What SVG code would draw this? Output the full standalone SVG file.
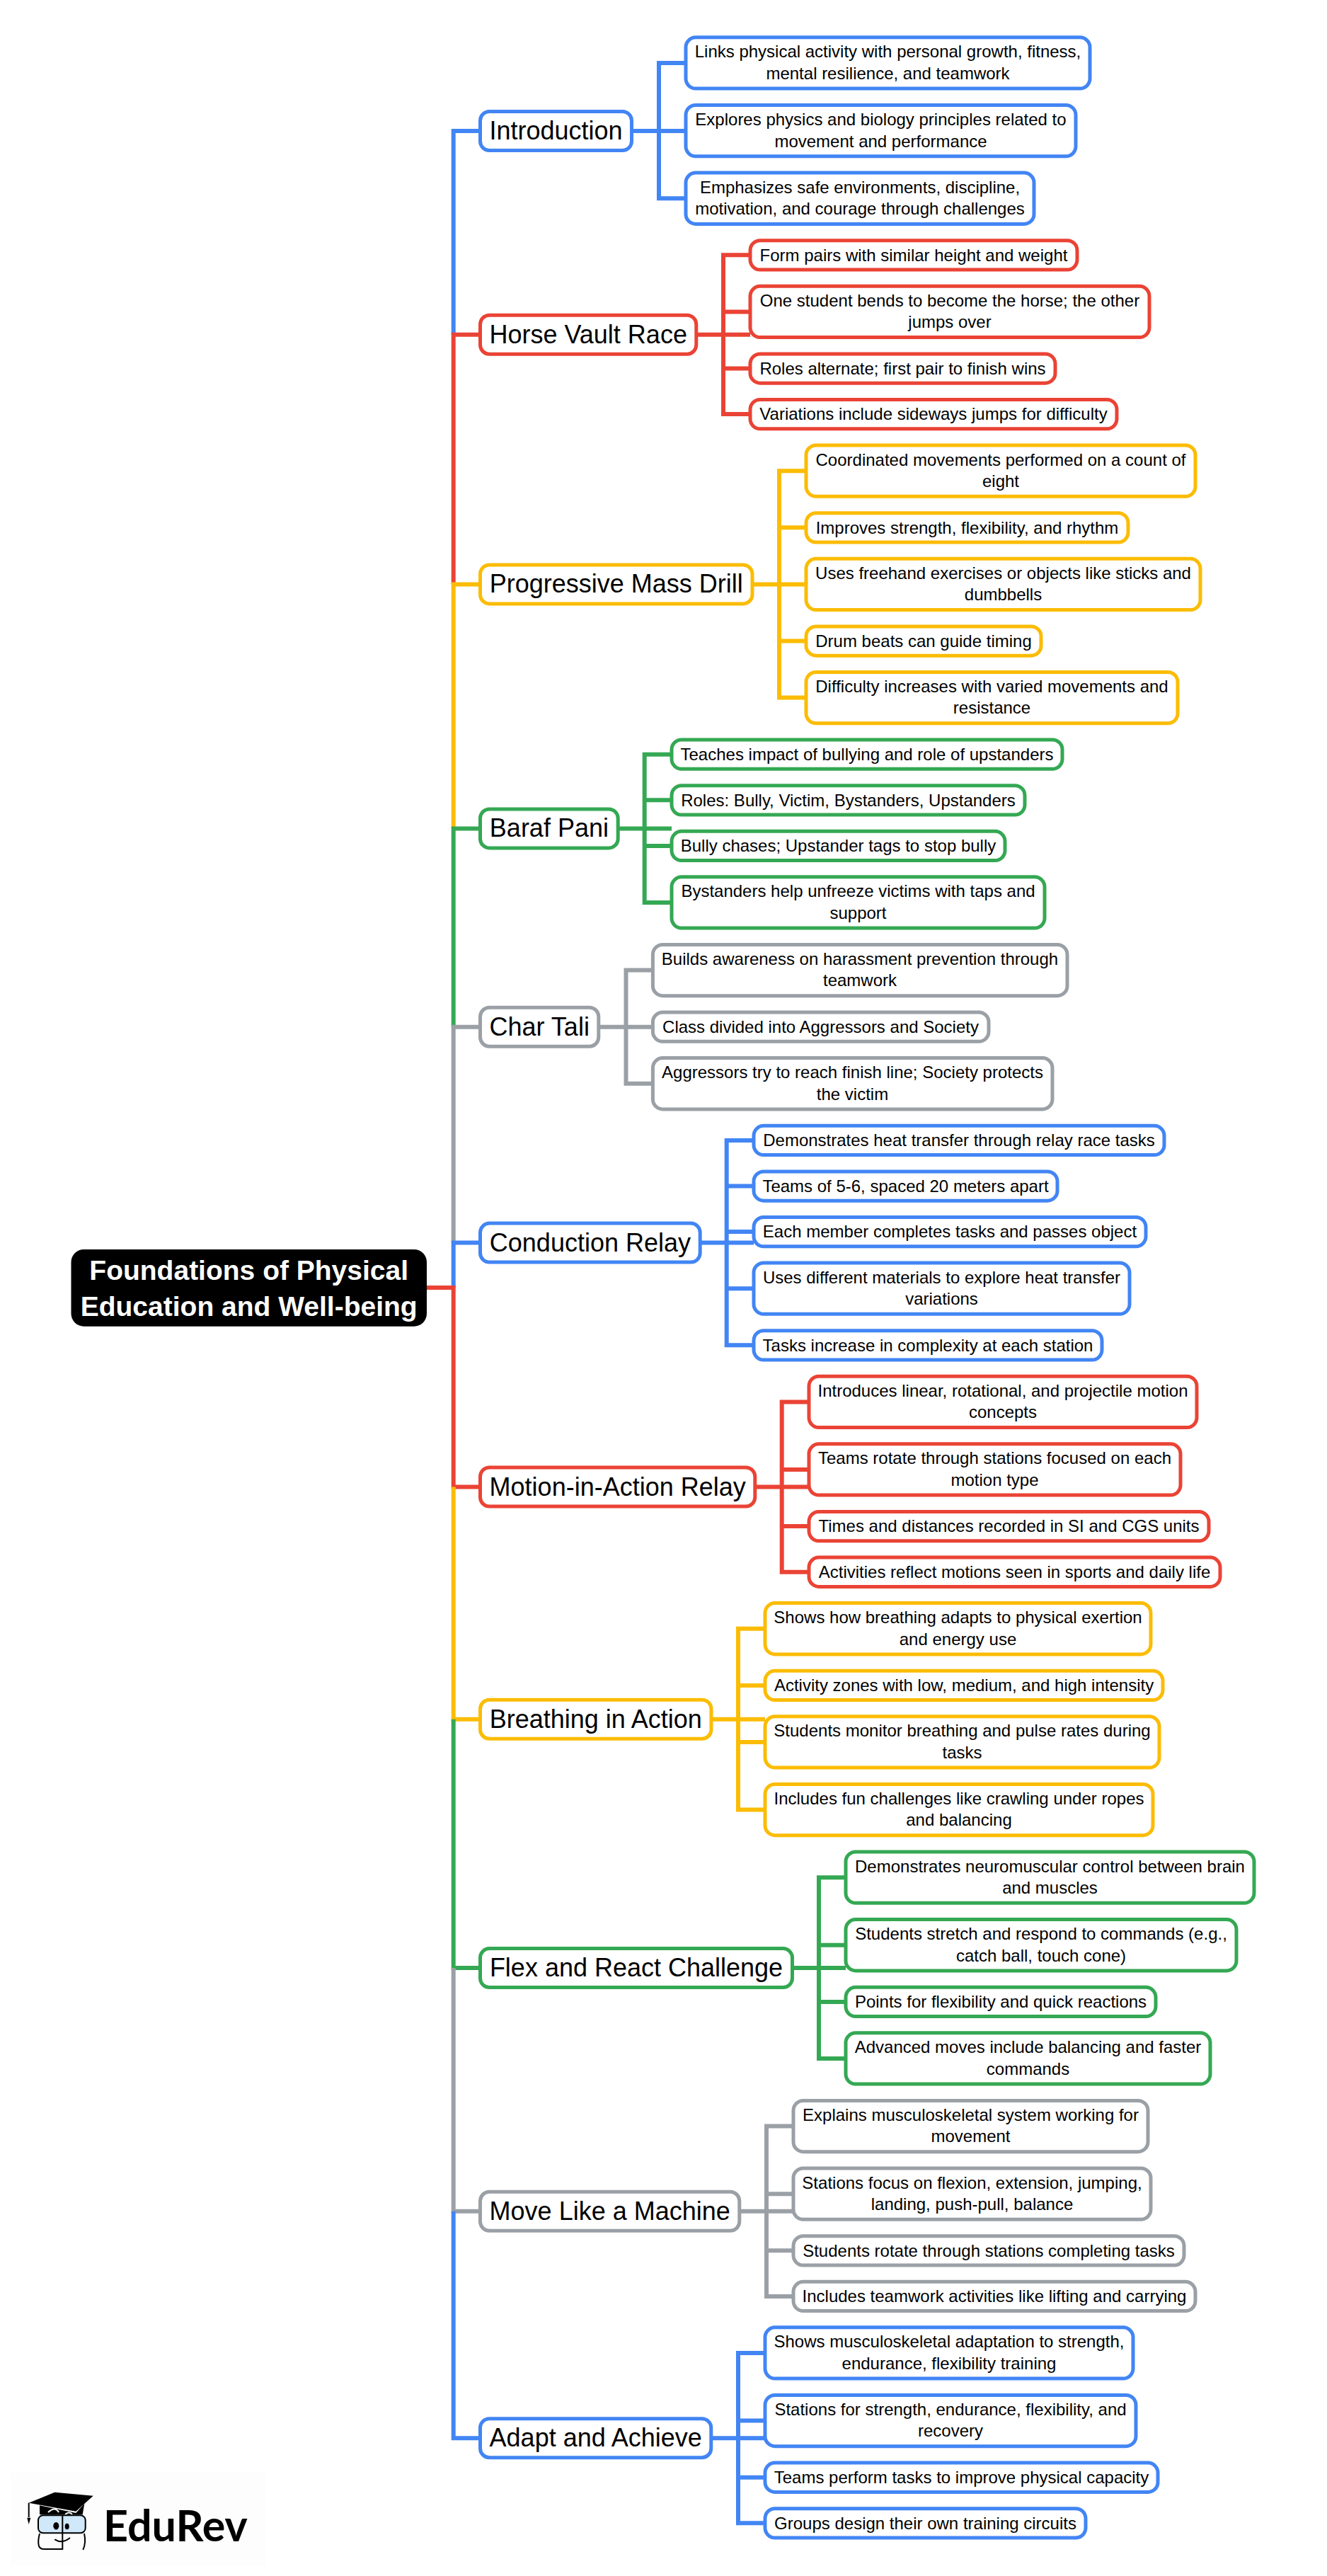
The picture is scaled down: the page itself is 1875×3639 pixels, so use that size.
<svg xmlns="http://www.w3.org/2000/svg" width="1875" height="3639" viewBox="0 0 1875 3639">
<style>
text{font-family:"Liberation Sans",Arial,sans-serif;fill:#000;text-anchor:middle}
.leaf text{font-size:24px}
.main text{font-size:36px}
.root text{font-size:39px;font-weight:700;fill:#fff}
rect{fill:#fff;stroke-width:5}
.b rect{stroke:#4285F4}.r rect{stroke:#EA4335}.y rect{stroke:#FBBC04}.g rect{stroke:#34A853}.k rect{stroke:#9AA0A6}
#connectors path{fill:none;stroke-width:6;stroke-linejoin:miter}
path.b{stroke:#4285F4}path.r{stroke:#EA4335}path.y{stroke:#FBBC04}path.g{stroke:#34A853}path.k{stroke:#9AA0A6}
</style>
<rect width="1875" height="3639" style="fill:#fff;stroke:none"/>
<g id="connectors">
<path class="b" d="M640.7 473V185H679"/>
<path class="r" d="M640.7 825.4V472.7H679"/>
<path class="y" d="M640.7 1170.4V825.4H679"/>
<path class="g" d="M640.7 1450.7V1170.4H679"/>
<path class="k" d="M640.7 1755.6V1450.7H679"/>
<path class="b" d="M640.7 1819V1755.6H679"/>
<path class="r" d="M603 1819H640.7V2100.5H679"/>
<path class="y" d="M640.7 2100.5V2428.7H679"/>
<path class="g" d="M640.7 2428.7V2780.1H679"/>
<path class="k" d="M640.7 2780.1V3123.8H679"/>
<path class="b" d="M640.7 3123.8V3444.2H679"/>
<path class="b" d="M892 185H968M968 89H931V280.2H968"/>
<path class="r" d="M983 472.7H1060M1060 360.3H1022V585.1H1060M1022 440.4H1060M1022 520.5H1060"/>
<path class="y" d="M1063 825.4H1139M1139 665.2H1101V985.6H1139M1101 745.3H1139M1101 825.4H1139M1101 905.5H1139"/>
<path class="g" d="M873 1170.4H949M949 1065.7H910.7V1275H949M910.7 1130.3H949M910.7 1194.9H949"/>
<path class="k" d="M846 1450.7H922M922 1370.6H884.5V1530.8H922"/>
<path class="b" d="M989 1755.6H1065M1065 1610.9H1026.7V1900.3H1065M1026.7 1675.5H1065M1026.7 1740.1H1065M1026.7 1820.2H1065"/>
<path class="r" d="M1067 2100.5H1143M1143 1980.4H1104.7V2220.7H1143M1104.7 2076H1143M1104.7 2156.1H1143"/>
<path class="y" d="M1005 2428.7H1081M1081 2300.8H1043V2556.6H1081M1043 2380.9H1081M1043 2461H1081"/>
<path class="g" d="M1119 2780.1H1195M1195 2652.2H1157V2908H1195M1157 2747.8H1195M1157 2827.9H1195"/>
<path class="k" d="M1045 3123.8H1121M1121 3003.6H1083V3243.9H1121M1083 3099.2H1121M1083 3179.3H1121"/>
<path class="b" d="M1005 3444.2H1081M1081 3324H1043V3564.3H1081M1043 3419.6H1081M1043 3499.7H1081"/>
</g>
<g id="root" class="root"><rect x="100.5" y="1765" width="502.5" height="108.7" rx="18" style="fill:#000;stroke:none"/><text x="351.7" y="1808">Foundations of Physical</text><text x="351.7" y="1859">Education and Well-being</text></g>

<g id="n1" class="main b"><rect x="678.5" y="157.5" width="214" height="55" rx="13"/><text x="785.5" y="197">Introduction</text></g>
<g id="n1a" class="leaf b"><rect x="969" y="52.8" width="571" height="72.3" rx="14"/><text x="1254.5" y="81">Links physical activity with personal growth, fitness,</text><text x="1254.5" y="111.5">mental resilience, and teamwork</text></g>
<g id="n1b" class="leaf b"><rect x="969" y="148.5" width="551" height="72.3" rx="14"/><text x="1244.5" y="177">Explores physics and biology principles related to</text><text x="1244.5" y="207.5">movement and performance</text></g>
<g id="n1c" class="leaf b"><rect x="969" y="244.1" width="492" height="72.3" rx="14"/><text x="1215" y="272.8">Emphasizes safe environments, discipline,</text><text x="1215" y="303.2">motivation, and courage through challenges</text></g>

<g id="n2" class="main r"><rect x="678.5" y="445.2" width="305.3" height="55" rx="13"/><text x="831.2" y="484.7">Horse Vault Race</text></g>
<g id="n2a" class="leaf r"><rect x="1060" y="339.7" width="462" height="41.3" rx="14"/><text x="1291" y="368.6">Form pairs with similar height and weight</text></g>
<g id="n2b" class="leaf r"><rect x="1060" y="404.3" width="564" height="72.3" rx="14"/><text x="1342" y="432.7">One student bends to become the horse; the other</text><text x="1342" y="463.1">jumps over</text></g>
<g id="n2c" class="leaf r"><rect x="1060" y="499.9" width="431" height="41.3" rx="14"/><text x="1275.5" y="528.8">Roles alternate; first pair to finish wins</text></g>
<g id="n2d" class="leaf r"><rect x="1060" y="564.5" width="518" height="41.3" rx="14"/><text x="1319" y="593.4">Variations include sideways jumps for difficulty</text></g>

<g id="n3" class="main y"><rect x="678.5" y="797.9" width="384.5" height="55" rx="13"/><text x="870.8" y="837.4">Progressive Mass Drill</text></g>
<g id="n3a" class="leaf y"><rect x="1139" y="629" width="550" height="72.3" rx="14"/><text x="1414" y="657.5">Coordinated movements performed on a count of</text><text x="1414" y="687.9">eight</text></g>
<g id="n3b" class="leaf y"><rect x="1139" y="724.7" width="455" height="41.3" rx="14"/><text x="1366.5" y="753.6">Improves strength, flexibility, and rhythm</text></g>
<g id="n3c" class="leaf y"><rect x="1139" y="789.3" width="557" height="72.3" rx="14"/><text x="1417.5" y="817.7">Uses freehand exercises or objects like sticks and</text><text x="1417.5" y="848.1">dumbbells</text></g>
<g id="n3d" class="leaf y"><rect x="1139" y="884.9" width="332" height="41.3" rx="14"/><text x="1305" y="913.8">Drum beats can guide timing</text></g>
<g id="n3e" class="leaf y"><rect x="1139" y="949.5" width="525" height="72.3" rx="14"/><text x="1401.5" y="977.9">Difficulty increases with varied movements and</text><text x="1401.5" y="1008.3">resistance</text></g>

<g id="n4" class="main g"><rect x="678.5" y="1142.9" width="194.7" height="55" rx="13"/><text x="775.9" y="1182.4">Baraf Pani</text></g>
<g id="n4a" class="leaf g"><rect x="949" y="1045" width="552" height="41.3" rx="14"/><text x="1225" y="1074">Teaches impact of bullying and role of upstanders</text></g>
<g id="n4b" class="leaf g"><rect x="949" y="1109.7" width="499" height="41.3" rx="14"/><text x="1198.5" y="1138.6">Roles: Bully, Victim, Bystanders, Upstanders</text></g>
<g id="n4c" class="leaf g"><rect x="949" y="1174.3" width="471" height="41.3" rx="14"/><text x="1184.5" y="1203.2">Bully chases; Upstander tags to stop bully</text></g>
<g id="n4d" class="leaf g"><rect x="949" y="1238.8" width="527" height="72.3" rx="14"/><text x="1212.5" y="1267.3">Bystanders help unfreeze victims with taps and</text><text x="1212.5" y="1297.7">support</text></g>

<g id="n5" class="main k"><rect x="678.5" y="1423.2" width="167.3" height="55" rx="13"/><text x="762.2" y="1462.7">Char Tali</text></g>
<g id="n5a" class="leaf k"><rect x="922.4" y="1334.4" width="585.6" height="72.3" rx="14"/><text x="1215" y="1362.9">Builds awareness on harassment prevention through</text><text x="1215" y="1393.3">teamwork</text></g>
<g id="n5b" class="leaf k"><rect x="922.4" y="1430" width="474.6" height="41.3" rx="14"/><text x="1159.5" y="1459">Class divided into Aggressors and Society</text></g>
<g id="n5c" class="leaf k"><rect x="922.4" y="1494.6" width="564.6" height="72.3" rx="14"/><text x="1204.5" y="1523.1">Aggressors try to reach finish line; Society protects</text><text x="1204.5" y="1553.5">the victim</text></g>

<g id="n6" class="main b"><rect x="678.5" y="1728.1" width="310.7" height="55" rx="13"/><text x="833.9" y="1767.6">Conduction Relay</text></g>
<g id="n6a" class="leaf b"><rect x="1065" y="1590.3" width="580" height="41.3" rx="14"/><text x="1355" y="1619.2">Demonstrates heat transfer through relay race tasks</text></g>
<g id="n6b" class="leaf b"><rect x="1065" y="1654.9" width="429" height="41.3" rx="14"/><text x="1279.5" y="1683.8">Teams of 5-6, spaced 20 meters apart</text></g>
<g id="n6c" class="leaf b"><rect x="1065" y="1719.5" width="554" height="41.3" rx="14"/><text x="1342" y="1748.4">Each member completes tasks and passes object</text></g>
<g id="n6d" class="leaf b"><rect x="1065" y="1784" width="531" height="72.3" rx="14"/><text x="1330.5" y="1812.5">Uses different materials to explore heat transfer</text><text x="1330.5" y="1842.9">variations</text></g>
<g id="n6e" class="leaf b"><rect x="1065" y="1879.7" width="492" height="41.3" rx="14"/><text x="1311" y="1908.6">Tasks increase in complexity at each station</text></g>

<g id="n7" class="main r"><rect x="678.5" y="2073" width="388.3" height="55" rx="13"/><text x="872.7" y="2112.5">Motion-in-Action Relay</text></g>
<g id="n7a" class="leaf r"><rect x="1143" y="1944.2" width="548" height="72.3" rx="14"/><text x="1417" y="1972.7">Introduces linear, rotational, and projectile motion</text><text x="1417" y="2003.1">concepts</text></g>
<g id="n7b" class="leaf r"><rect x="1143" y="2039.8" width="525" height="72.3" rx="14"/><text x="1405.5" y="2068.3">Teams rotate through stations focused on each</text><text x="1405.5" y="2098.7">motion type</text></g>
<g id="n7c" class="leaf r"><rect x="1143" y="2135.5" width="565" height="41.3" rx="14"/><text x="1425.5" y="2164.4">Times and distances recorded in SI and CGS units</text></g>
<g id="n7d" class="leaf r"><rect x="1143" y="2200.1" width="581" height="41.3" rx="14"/><text x="1433.5" y="2229">Activities reflect motions seen in sports and daily life</text></g>

<g id="n8" class="main y"><rect x="678.5" y="2401.2" width="326.5" height="55" rx="13"/><text x="841.8" y="2440.7">Breathing in Action</text></g>
<g id="n8a" class="leaf y"><rect x="1081" y="2264.6" width="545" height="72.3" rx="14"/><text x="1353.5" y="2293.1">Shows how breathing adapts to physical exertion</text><text x="1353.5" y="2323.5">and energy use</text></g>
<g id="n8b" class="leaf y"><rect x="1081" y="2360.3" width="562" height="41.3" rx="14"/><text x="1362" y="2389.2">Activity zones with low, medium, and high intensity</text></g>
<g id="n8c" class="leaf y"><rect x="1081" y="2424.8" width="557" height="72.3" rx="14"/><text x="1359.5" y="2453.3">Students monitor breathing and pulse rates during</text><text x="1359.5" y="2483.7">tasks</text></g>
<g id="n8d" class="leaf y"><rect x="1081" y="2520.4" width="548" height="72.3" rx="14"/><text x="1355" y="2548.9">Includes fun challenges like crawling under ropes</text><text x="1355" y="2579.3">and balancing</text></g>

<g id="n9" class="main g"><rect x="678.5" y="2752.6" width="441" height="55" rx="13"/><text x="899" y="2792.1">Flex and React Challenge</text></g>
<g id="n9a" class="leaf g"><rect x="1195" y="2616" width="577" height="72.3" rx="14"/><text x="1483.5" y="2644.5">Demonstrates neuromuscular control between brain</text><text x="1483.5" y="2674.9">and muscles</text></g>
<g id="n9b" class="leaf g"><rect x="1195" y="2711.6" width="552" height="72.3" rx="14"/><text x="1471" y="2740.1">Students stretch and respond to commands (e.g.,</text><text x="1471" y="2770.5">catch ball, touch cone)</text></g>
<g id="n9c" class="leaf g"><rect x="1195" y="2807.3" width="438" height="41.3" rx="14"/><text x="1414" y="2836.2">Points for flexibility and quick reactions</text></g>
<g id="n9d" class="leaf g"><rect x="1195" y="2871.8" width="515" height="72.3" rx="14"/><text x="1452.5" y="2900.3">Advanced moves include balancing and faster</text><text x="1452.5" y="2930.7">commands</text></g>

<g id="n10" class="main k"><rect x="678.5" y="3096.3" width="366.3" height="55" rx="13"/><text x="861.7" y="3135.8">Move Like a Machine</text></g>
<g id="n10a" class="leaf k"><rect x="1121" y="2967.4" width="501" height="72.3" rx="14"/><text x="1371.5" y="2995.9">Explains musculoskeletal system working for</text><text x="1371.5" y="3026.3">movement</text></g>
<g id="n10b" class="leaf k"><rect x="1121" y="3063" width="505" height="72.3" rx="14"/><text x="1373.5" y="3091.5">Stations focus on flexion, extension, jumping,</text><text x="1373.5" y="3121.9">landing, push-pull, balance</text></g>
<g id="n10c" class="leaf k"><rect x="1121" y="3158.7" width="552" height="41.3" rx="14"/><text x="1397" y="3187.6">Students rotate through stations completing tasks</text></g>
<g id="n10d" class="leaf k"><rect x="1121" y="3223.3" width="568" height="41.3" rx="14"/><text x="1405" y="3252.2">Includes teamwork activities like lifting and carrying</text></g>

<g id="n11" class="main b"><rect x="678.5" y="3416.7" width="326.3" height="55" rx="13"/><text x="841.7" y="3456.2">Adapt and Achieve</text></g>
<g id="n11a" class="leaf b"><rect x="1081" y="3287.8" width="520" height="72.3" rx="14"/><text x="1341" y="3316.3">Shows musculoskeletal adaptation to strength,</text><text x="1341" y="3346.7">endurance, flexibility training</text></g>
<g id="n11b" class="leaf b"><rect x="1081" y="3383.4" width="524" height="72.3" rx="14"/><text x="1343" y="3411.9">Stations for strength, endurance, flexibility, and</text><text x="1343" y="3442.3">recovery</text></g>
<g id="n11c" class="leaf b"><rect x="1081" y="3479.1" width="555" height="41.3" rx="14"/><text x="1358.5" y="3508">Teams perform tasks to improve physical capacity</text></g>
<g id="n11d" class="leaf b"><rect x="1081" y="3543.7" width="453" height="41.3" rx="14"/><text x="1307.5" y="3572.6">Groups design their own training circuits</text></g>

<g id="logo">
<rect x="15" y="3493" width="360" height="131" style="fill:#fdfdfd;stroke:none"/>
<polygon points="40.7,3535.7 77.3,3520.7 131.7,3525.7 107.3,3547.7" fill="#000"/>
<polygon points="56,3539.3 107.3,3550 119.3,3536.7 116.7,3552.3 56,3552.3" fill="#000"/>
<path d="M40.7 3535.7V3556" fill="none" stroke="#000" stroke-width="2"/>
<polygon points="38.3,3556.7 43.3,3556.7 40.7,3566" fill="#000"/>
<path d="M68 3549Q78 3540 83 3549M92 3552Q98 3547 102 3552" fill="none" stroke="#fff" stroke-width="2"/>
<rect x="54" y="3553.3" width="66.7" height="25" rx="7" style="fill:#cfe8fa;stroke:#000;stroke-width:2"/>
<path d="M88.3 3553V3602" fill="none" stroke="#000" stroke-width="2"/>
<ellipse cx="79.3" cy="3568.3" rx="4" ry="5.3" fill="#000"/><ellipse cx="94.7" cy="3569" rx="3" ry="4.3" fill="#000"/>
<path d="M56 3579Q53 3590 55 3597Q57 3601 62 3601H88M119 3579Q122 3592 117.3 3602M77.3 3587.3Q88 3594 99 3585" fill="none" stroke="#000" stroke-width="2"/>
<text x="146" y="3590" style="font-family:Lato,'Liberation Sans',sans-serif;font-weight:700;font-size:61px;text-anchor:start">EduRev</text>
</g>
</svg>
